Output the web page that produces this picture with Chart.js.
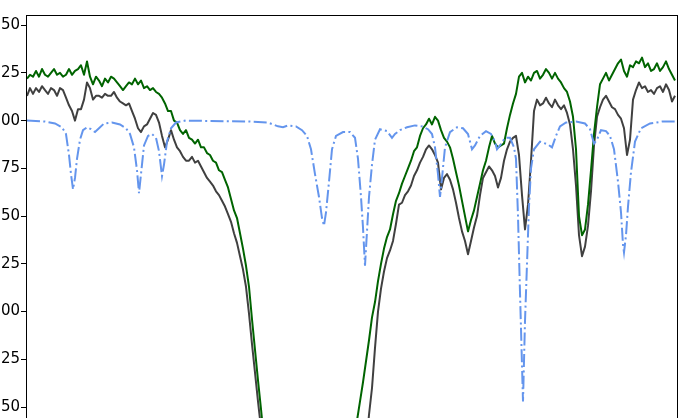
<!DOCTYPE html>
<html>
<head>
<meta charset="utf-8">
<title>Spectrum</title>
<script src="https://cdn.jsdelivr.net/npm/chart.js@4.4.1/dist/chart.umd.min.js"></script>
<style>
    html, body { margin: 0; padding: 0; width: 683px; height: 418px; overflow: hidden; background: #fff; }
    /* the figure is cropped: the canvas sticks out on the left and the bottom */
    #spectrum { position: absolute; left: -20px; top: 0; }
</style>
</head>
<body>
<canvas id="spectrum" width="703" height="440"></canvas>
<script>
// =====================================================================
// DATA
//   channel      -> sampling grid shared by the two observed spectra
//   greenFlux    -> observed spectrum, dark green
//   grayFlux     -> second observed spectrum, dark gray
//   blueChannel / blueFlux -> model spectrum, dash-dot
// =====================================================================
const channel = Array.from({ length: 217 }, (_, i) => 1 + 3 * i);

const greenFlux = [
    1.22, 1.24, 1.23, 1.26, 1.23, 1.27, 1.24, 1.23, 1.25, 1.27, 1.24,
    1.25, 1.23, 1.24, 1.27, 1.24, 1.26, 1.27, 1.29, 1.24, 1.31, 1.23,
    1.19, 1.23, 1.21, 1.18, 1.22, 1.20, 1.23, 1.22, 1.20, 1.18, 1.16,
    1.18, 1.20, 1.19, 1.22, 1.19, 1.21, 1.17, 1.18, 1.16, 1.17, 1.15,
    1.14, 1.12, 1.09, 1.05, 1.05, 1.00, 0.99, 0.95, 0.93, 0.95, 0.91,
    0.90, 0.88, 0.90, 0.86, 0.86, 0.83, 0.82, 0.79, 0.78, 0.74, 0.73,
    0.69, 0.65, 0.59, 0.53, 0.49, 0.41, 0.33, 0.24, 0.13, -0.04, -0.20,
    -0.36, -0.51, -0.67, -0.82, -0.95, -1.03, -1.06, -1.08, -1.05, -1.09, -1.07,
    -1.06, -1.08, -1.05, -1.07, -1.09, -1.06, -1.08, -1.05, -1.07, -1.06, -1.08,
    -1.07, -1.05, -1.06, -1.04, -1.06, -1.04, -1.02, -0.98, -0.88, -0.77, -0.67,
    -0.57, -0.47, -0.37, -0.26, -0.15, -0.03, 0.05, 0.16, 0.25, 0.33, 0.39,
    0.43, 0.51, 0.58, 0.62, 0.67, 0.71, 0.75, 0.79, 0.84, 0.86, 0.92,
    0.96, 0.98, 1.01, 0.98, 1.02, 1.00, 0.95, 0.91, 0.89, 0.86, 0.80,
    0.73, 0.66, 0.58, 0.50, 0.42, 0.48, 0.53, 0.60, 0.67, 0.74, 0.79,
    0.86, 0.92, 0.88, 0.86, 0.87, 0.88, 0.96, 1.03, 1.09, 1.14, 1.23,
    1.25, 1.20, 1.23, 1.21, 1.25, 1.26, 1.22, 1.24, 1.27, 1.25, 1.22,
    1.25, 1.22, 1.20, 1.17, 1.15, 1.10, 1.02, 0.85, 0.50, 0.40, 0.43,
    0.56, 0.74, 0.93, 1.07, 1.19, 1.22, 1.25, 1.21, 1.24, 1.27, 1.30,
    1.32, 1.26, 1.23, 1.29, 1.28, 1.31, 1.30, 1.33, 1.28, 1.30, 1.26,
    1.27, 1.30, 1.26, 1.28, 1.31, 1.27, 1.24, 1.21
];

const grayFlux = [
    1.13, 1.17, 1.14, 1.17, 1.15, 1.18, 1.16, 1.14, 1.17, 1.16, 1.13,
    1.17, 1.16, 1.12, 1.08, 1.05, 1.00, 1.06, 1.06, 1.11, 1.20, 1.17,
    1.11, 1.13, 1.13, 1.12, 1.14, 1.13, 1.13, 1.15, 1.12, 1.10, 1.09,
    1.08, 1.09, 1.05, 1.01, 0.96, 0.94, 0.97, 0.98, 1.01, 1.04, 1.03,
    0.99, 0.92, 0.86, 0.90, 0.95, 0.90, 0.86, 0.84, 0.81, 0.79, 0.79,
    0.81, 0.78, 0.79, 0.76, 0.73, 0.70, 0.68, 0.66, 0.63, 0.61, 0.58,
    0.55, 0.51, 0.47, 0.41, 0.36, 0.29, 0.22, 0.13, -0.01, -0.17, -0.32,
    -0.47, -0.61, -0.75, -0.88, -0.98, -1.05, -1.09, -1.12, -1.10, -1.13, -1.11,
    -1.12, -1.14, -1.11, -1.13, -1.12, -1.14, -1.11, -1.13, -1.12, -1.14, -1.12,
    -1.13, -1.11, -1.13, -1.12, -1.14, -1.12, -1.13, -1.11, -1.13, -1.12, -1.10,
    -1.06, -0.99, -0.85, -0.71, -0.54, -0.40, -0.19, 0.00, 0.12, 0.21, 0.28,
    0.32, 0.37, 0.46, 0.56, 0.57, 0.61, 0.63, 0.66, 0.71, 0.74, 0.78,
    0.81, 0.85, 0.87, 0.85, 0.82, 0.78, 0.64, 0.70, 0.72, 0.69, 0.64,
    0.57, 0.49, 0.42, 0.37, 0.30, 0.37, 0.44, 0.50, 0.61, 0.70, 0.73,
    0.76, 0.74, 0.71, 0.65, 0.70, 0.79, 0.85, 0.89, 0.91, 0.92, 0.82,
    0.61, 0.43, 0.56, 0.79, 1.05, 1.11, 1.08, 1.09, 1.12, 1.09, 1.07,
    1.11, 1.08, 1.06, 1.08, 1.04, 0.98, 0.85, 0.66, 0.40, 0.29, 0.34,
    0.45, 0.63, 0.87, 1.02, 1.07, 1.11, 1.13, 1.10, 1.07, 1.06, 1.03,
    1.01, 0.96, 0.82, 0.90, 1.11, 1.16, 1.20, 1.17, 1.18, 1.15, 1.16,
    1.14, 1.17, 1.18, 1.15, 1.19, 1.16, 1.10, 1.13
];

const blueChannel = [
    1, 19, 29, 36, 40, 43, 45, 47, 49, 51,
    54, 57, 61, 65, 69, 73, 78, 86, 94, 100,
    104, 108, 111, 113, 115, 118, 122, 126, 130, 133,
    136, 138, 141, 145, 150, 159, 224, 242, 252, 257,
    262, 270, 276, 281, 285, 289, 293, 296, 298, 300,
    303, 306, 310, 317, 324, 329, 332, 335, 337, 339,
    341, 343, 346, 349, 354, 361, 366, 369, 374, 381,
    389, 396, 402, 406, 409, 412, 414, 416, 419, 424,
    431, 437, 442, 446, 449, 454, 460, 465, 469, 471,
    474, 479, 484, 488, 490, 492, 494, 497, 499, 501,
    503, 505, 508, 514, 522, 526, 530, 534, 540, 550,
    559, 564, 568, 571, 575, 580, 584, 588, 592, 595,
    597, 598, 600, 602, 605, 609, 615, 624, 636, 649
];

const blueFlux = [
    1.00, 0.995, 0.985, 0.965, 0.93, 0.82, 0.72, 0.64, 0.70, 0.80,
    0.90, 0.95, 0.965, 0.955, 0.94, 0.96, 0.985, 0.99, 0.98, 0.96,
    0.93, 0.86, 0.74, 0.62, 0.72, 0.87, 0.92, 0.93, 0.91, 0.84,
    0.71, 0.77, 0.89, 0.96, 0.99, 1.00, 0.995, 0.99, 0.97, 0.965,
    0.975, 0.97, 0.95, 0.92, 0.85, 0.72, 0.60, 0.49, 0.45, 0.52,
    0.68, 0.85, 0.92, 0.94, 0.94, 0.91, 0.80, 0.60, 0.44, 0.24,
    0.42, 0.60, 0.77, 0.90, 0.955, 0.945, 0.91, 0.93, 0.95, 0.965,
    0.975, 0.97, 0.955, 0.93, 0.86, 0.72, 0.60, 0.70, 0.86, 0.94,
    0.965, 0.96, 0.93, 0.85, 0.87, 0.92, 0.945, 0.93, 0.89, 0.85,
    0.87, 0.91, 0.91, 0.86, 0.80, 0.50, 0.10, -0.47, -0.05, 0.25,
    0.55, 0.75, 0.85, 0.89, 0.875, 0.86, 0.92, 0.97, 0.99, 0.995,
    0.985, 0.955, 0.88, 0.90, 0.95, 0.945, 0.92, 0.85, 0.68, 0.52,
    0.35, 0.31, 0.40, 0.55, 0.73, 0.89, 0.96, 0.985, 0.995, 0.995
];

// y tick values (only the last two digits survive the crop)
const yTicks = [-0.5, -0.25, 0, 0.25, 0.5, 0.75, 1.0, 1.25, 1.5];

// ----- small helpers -----
function toPoints(xs, ys) {
    return xs.map((x, i) => ({ x: x, y: ys[i] }));
}

// matplotlib-like frame (spines) drawn over the lines
const spinesPlugin = {
    id: "spines",
    afterDatasetsDraw(chart) {
        const { ctx, chartArea } = chart;
        const l = Math.round(chartArea.left) + 0.5;
        const t = Math.round(chartArea.top) + 0.5;
        const r = Math.round(chartArea.right) + 0.5;
        const b = Math.round(chartArea.bottom) + 0.5;
        ctx.save();
        ctx.strokeStyle = "#000";
        ctx.lineWidth = 1;
        ctx.strokeRect(l, t, r - l, b - t);
        ctx.restore();
    }
};

Chart.defaults.font.family = "'DejaVu Sans', sans-serif";

new Chart(document.getElementById("spectrum"), {
    type: "line",
    data: {
        datasets: [
            {
                label: "model",
                data: toPoints(blueChannel, blueFlux),
                borderColor: "#6495ED",
                borderWidth: 2,
                borderDash: [13, 3.3, 2, 3.3],
                borderCapStyle: "butt",
                pointRadius: 0,
                tension: 0
            },
            {
                label: "spectrum A",
                data: toPoints(channel, greenFlux),
                borderColor: "#006400",
                borderWidth: 2,
                borderJoinStyle: "round",
                pointRadius: 0,
                tension: 0
            },
            {
                label: "spectrum B",
                data: toPoints(channel, grayFlux),
                borderColor: "#404040",
                borderWidth: 2,
                borderJoinStyle: "round",
                pointRadius: 0,
                tension: 0
            }
        ]
    },
    options: {
        responsive: false,
        animation: false,
        devicePixelRatio: 1,
        layout: { padding: { left: 0, right: 6, top: 15, bottom: 13.8 } },
        plugins: { legend: { display: false }, tooltip: { enabled: false } },
        scales: {
            x: { type: "linear", min: 0, max: 651, display: false },
            y: {
                min: -0.6,
                max: 1.553,
                afterFit(scale) { scale.width = 46; },
                afterBuildTicks(scale) { scale.ticks = yTicks.map(v => ({ value: v })); },
                border: { display: false },
                grid: { drawOnChartArea: false, drawTicks: true, tickLength: 5, color: "#000", lineWidth: 1 },
                ticks: {
                    color: "#000",
                    padding: 1,
                    font: { size: 15 },
                    callback: v => v.toFixed(2)
                }
            }
        }
    },
    plugins: [spinesPlugin]
});
</script>
</body>
</html>
